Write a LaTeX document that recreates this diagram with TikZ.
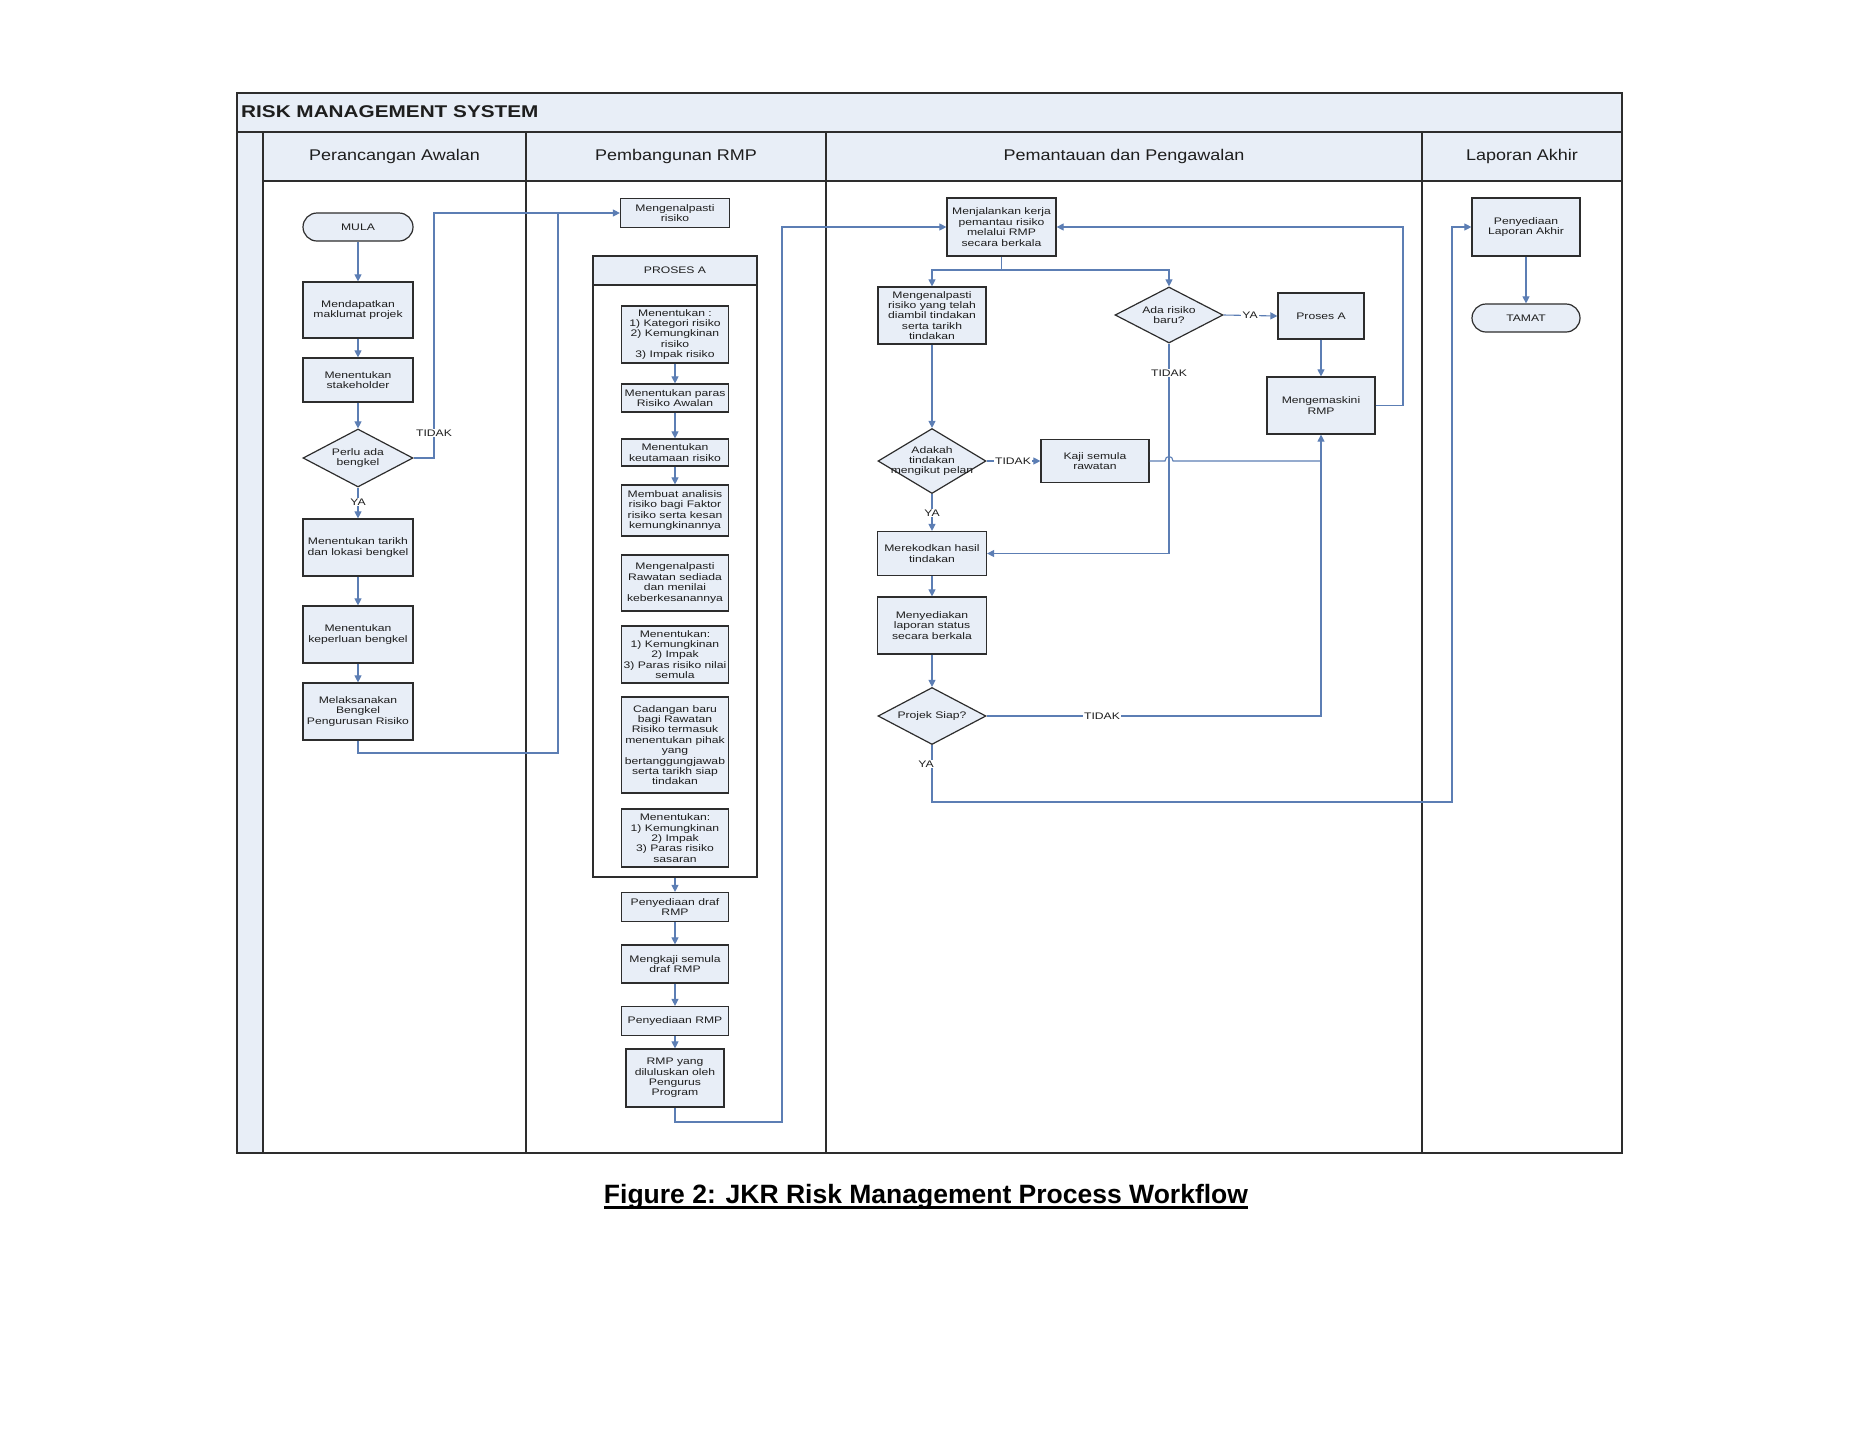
\documentclass[tikz,border=0pt]{standalone}
\usepackage{fontspec}
\setmainfont{Liberation Sans}
\newfontfamily\boxfont[FakeStretch=1.28]{Liberation Sans}
\newfontfamily\headfont[FakeStretch=1.16]{Liberation Sans}
\newfontfamily\titlefont[FakeStretch=1.22]{Liberation Sans}
\usetikzlibrary{shapes.geometric,arrows.meta}
\definecolor{cfill}{RGB}{232,238,247}
\definecolor{cline}{RGB}{92,126,180}
\definecolor{cedge}{RGB}{45,45,45}
\definecolor{ctext}{RGB}{30,30,30}
\begin{document}
\begin{tikzpicture}[x=1pt,y=-1pt,
  wh/.style 2 args={minimum width=#1pt, minimum height=#2pt},
  boxst/.style={draw=cedge, fill=cfill, line width=1.2pt, align=center, inner sep=1pt,
     font=\boxfont\fontsize{9.5}{10.4}\selectfont, text=ctext},
  termst/.style={boxst, rounded corners=14pt},
  diast/.style={diamond, draw=cedge, fill=cfill, line width=1.2pt, inner sep=0pt},
  dtext/.style={align=center, inner sep=0pt, font=\boxfont\fontsize{9.5}{10.4}\selectfont, text=ctext},
  lbl/.style={fill=white, inner sep=1pt, font=\boxfont\fontsize{9.5}{10}\selectfont, text=ctext},
  connst/.style={draw=cline, line width=1.1pt},
  arr/.style={connst, -{Triangle[length=7pt,width=7pt]}},
  framest/.style={draw=cedge, line width=1.4pt},
  headst/.style={font=\headfont\fontsize{15.5}{16}\selectfont, text=ctext, inner sep=0pt}]
\useasboundingbox (0,0) rectangle (1854,1433);

% ---- swimlane frame ----
\fill[cfill] (237,93) rectangle (1622,132);
\fill[cfill] (263,132) rectangle (1622,181);
\fill[cfill] (237,132) rectangle (263,1153);
\draw[framest] (237,93) rectangle (1622,1153);
\draw[framest] (237,132) -- (1622,132);
\draw[framest] (263,181) -- (1622,181);
\draw[framest] (263,132) -- (263,1153);
\foreach \xx in {526,826,1422} \draw[framest] (\xx,132) -- (\xx,1153);

\node[anchor=west, inner sep=0pt, font=\titlefont\bfseries\fontsize{17}{17}\selectfont, text=ctext] (title) at (241,112) {RISK MANAGEMENT SYSTEM};
\node[headst] (hA) at (394.5,156.5) {Perancangan Awalan};
\node[headst] (hB) at (676,156.5) {Pembangunan RMP};
\node[headst] (hC) at (1124,156.5) {Pemantauan dan Pengawalan};
\node[headst] (hD) at (1522,156.5) {Laporan Akhir};

% ---- lane 1 ----
\node[termst, wh={110}{28}] (mula) at (358,227) {MULA};
\node[boxst, wh={110}{56}] (n1) at (358,310) {Mendapatkan\\maklumat projek};
\node[boxst, wh={110}{44}] (n2) at (358,380) {Menentukan\\stakeholder};
\node[diast, wh={110}{58}] (d1) at (358,458) {};
\node[dtext] (d1t) at (358,458) {Perlu ada\\bengkel};
\node[boxst, wh={110}{57}] (n3) at (358,547.5) {Menentukan tarikh\\dan lokasi bengkel};
\node[boxst, wh={110}{57}] (n4) at (358,634.5) {Menentukan\\keperluan bengkel};
\node[boxst, wh={110}{57}] (n5) at (358,711.5) {Melaksanakan\\Bengkel\\Pengurusan Risiko};

% ---- lane 2 ----
\node[boxst, wh={109}{29}] (m1) at (675,213) {Mengenalpasti\\risiko};
\node[draw=cedge, fill=white, line width=1.2pt, wh={164}{621}, inner sep=0pt] (pros) at (675,566.5) {};
\node[boxst, wh={164}{29}] (prosh) at (675,270.5) {PROSES A};
\node[boxst, wh={107}{57}] (p1) at (675,334.5) {Menentukan :\\1) Kategori risiko\\2) Kemungkinan\\risiko\\3) Impak risiko};
\node[boxst, wh={107}{28}] (p2) at (675,398) {Menentukan paras\\Risiko Awalan};
\node[boxst, wh={107}{27}] (p3) at (675,452.5) {Menentukan\\keutamaan risiko};
\node[boxst, wh={107}{51}] (p4) at (675,510.5) {Membuat analisis\\risiko bagi Faktor\\risiko serta kesan\\kemungkinannya};
\node[boxst, wh={107}{56}] (p5) at (675,583) {Mengenalpasti\\Rawatan sediada\\dan menilai\\keberkesanannya};
\node[boxst, wh={107}{57}] (p6) at (675,654.5) {Menentukan:\\1) Kemungkinan\\2) Impak\\3) Paras risiko nilai\\semula};
\node[boxst, wh={107}{96}] (p7) at (675,745) {Cadangan baru\\bagi Rawatan\\Risiko termasuk\\menentukan pihak\\yang\\bertanggungjawab\\serta tarikh siap\\tindakan};
\node[boxst, wh={107}{58}] (p8) at (675,838) {Menentukan:\\1) Kemungkinan\\2) Impak\\3) Paras risiko\\sasaran};
\node[boxst, wh={107}{29}] (r1) at (675,907) {Penyediaan draf\\RMP};
\node[boxst, wh={107}{38}] (r2) at (675,964) {Mengkaji semula\\draf RMP};
\node[boxst, wh={107}{29}] (r3) at (675,1021) {Penyediaan RMP};
\node[boxst, wh={98}{58}] (r4) at (675,1078) {RMP yang\\diluluskan oleh\\Pengurus\\Program};

% ---- lane 3 ----
\node[boxst, wh={109}{58}] (k1) at (1001.5,227) {Menjalankan kerja\\pemantau risiko\\melalui RMP\\secara berkala};
\node[boxst, wh={108}{57}] (k2) at (932,315.5) {Mengenalpasti\\risiko yang telah\\diambil tindakan\\serta tarikh\\tindakan};
\node[diast, wh={108}{56}] (kd1) at (1169,315) {};
\node[dtext] (kd1t) at (1169,315) {Ada risiko\\baru?};
\node[boxst, wh={86}{46}] (kA) at (1321,316) {Proses A};
\node[boxst, wh={108}{57}] (kU) at (1321,405.5) {Mengemaskini\\RMP};
\node[diast, wh={108}{65}] (kd2) at (932,461) {};
\node[dtext] (kd2t) at (932,461) {Adakah\\tindakan\\mengikut pelan};
\node[boxst, wh={108}{43}] (kK) at (1095,461) {Kaji semula\\rawatan};
\node[boxst, wh={109}{44}] (kR) at (932,553.5) {Merekodkan hasil\\tindakan};
\node[boxst, wh={109}{57}] (kS) at (932,625.5) {Menyediakan\\laporan status\\secara berkala};
\node[diast, wh={108}{57}] (kd3) at (932,716) {};
\node[dtext] (kd3t) at (932,716) {Projek Siap?};

% ---- lane 4 ----
\node[boxst, wh={108}{58}] (L1) at (1526,227) {Penyediaan\\Laporan Akhir};
\node[termst, wh={108}{28}] (L2) at (1526,318) {TAMAT};

% ---- connectors ----
\draw[arr] (mula.south) -- (n1.north);
\draw[arr] (n1.south) -- (n2.north);
\draw[arr] (n2.south) -- (d1.north);
\coordinate (c1) at (434,213);
\draw[arr] (d1.east) -| (c1) -- (m1.west);
\draw[arr] (d1.south) -- (n3.north);
\draw[arr] (n3.south) -- (n4.north);
\draw[arr] (n4.south) -- (n5.north);
\coordinate (c2) at (558,753);
\coordinate (c3) at (558,213);
\draw[connst] (n5.south) |- (c2) -- (c3);

\draw[arr] (p1.south) -- (p2.north);
\draw[arr] (p2.south) -- (p3.north);
\draw[arr] (p3.south) -- (p4.north);
\draw[arr] (pros.south) -- (r1.north);
\draw[arr] (r1.south) -- (r2.north);
\draw[arr] (r2.south) -- (r3.north);
\draw[arr] (r3.south) -- (r4.north);
\coordinate (c4) at (782,1122);
\draw[arr] (r4.south) |- (c4) |- (k1.west);

\coordinate (c7) at (1001.5,270);
\draw[connst] (k1.south) -- (c7);
\draw[arr] (c7) -| (k2.north);
\draw[arr] (c7) -| (kd1.north);
\draw[arr] (kd1.east) -- (kA.west);
\draw[arr] (kA.south) -- (kU.north);
\coordinate (c5) at (1403,405.5);
\draw[arr] (kU.east) -- (c5) |- (k1.east);
\draw[arr] (kd1.south) |- (kR.east);
\draw[arr] (k2.south) -- (kd2.north);
\draw[arr] (kd2.east) -- (kK.west);
\coordinate (hp1) at (1165,461);
\coordinate (hp2) at (1173,461);
\coordinate (c8) at (1321,461);
\draw[connst] (kK.east) -- (hp1) .. controls (1165,455) and (1173,455) .. (hp2) -- (c8);
\draw[arr] (kd2.south) -- (kR.north);
\draw[arr] (kR.south) -- (kS.north);
\draw[arr] (kS.south) -- (kd3.north);
\draw[arr] (kd3.east) -| (kU.south);
\coordinate (c6) at (1452,802);
\draw[arr] (kd3.south) |- (c6) |- (L1.west);
\draw[arr] (L1.south) -- (L2.north);

% ---- connector labels ----
\node[lbl] (t1) at (434,433) {TIDAK};
\node[lbl] (y1) at (358,502) {YA};
\node[lbl] (y2) at (1250,315) {YA};
\node[lbl] (t2) at (1169,373) {TIDAK};
\node[lbl] (t3) at (1013,461) {TIDAK};
\node[lbl] (y3) at (932,513) {YA};
\node[lbl] (t4) at (1102,716) {TIDAK};
\node[lbl] (y4) at (926,764) {YA};

% ---- caption ----
\node[anchor=base, inner sep=0pt, font=\bfseries\fontsize{26.5}{27}\selectfont] (cap) at (926,1203) {Figure 2: JKR Risk Management Process Workflow};
\draw[line width=2.4pt] ([yshift=-4.5pt]cap.base west) -- ([yshift=-4.5pt]cap.base east);
\end{tikzpicture}
\end{document}
